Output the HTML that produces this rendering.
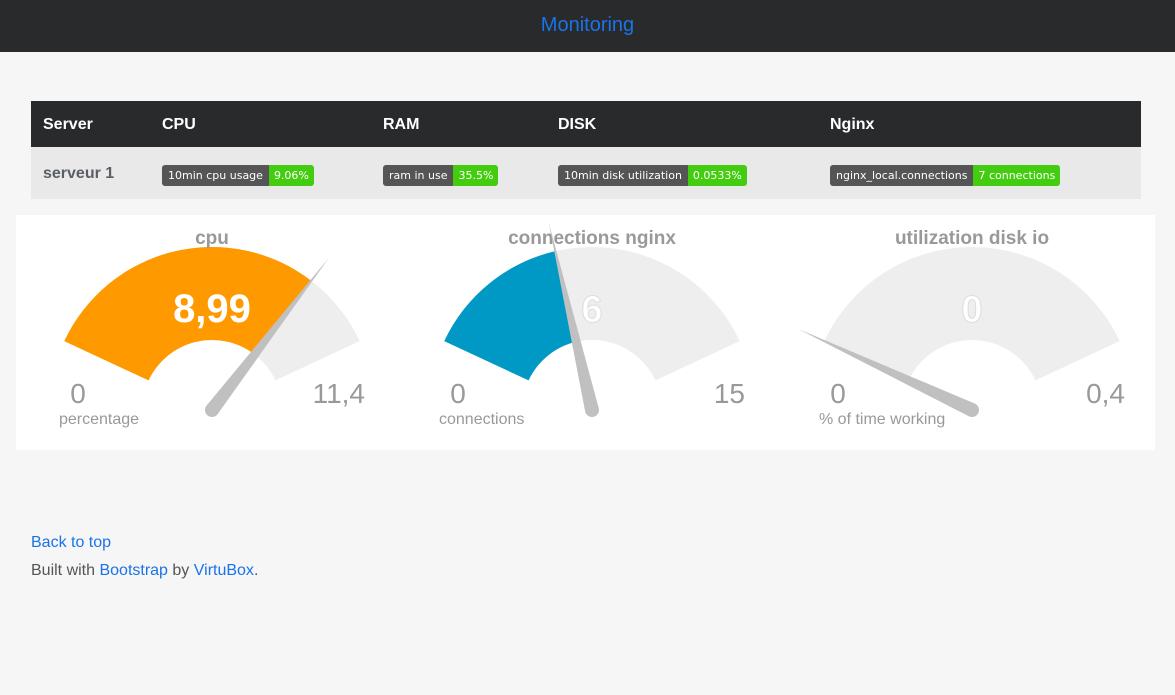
<!DOCTYPE html>
<html><head><meta charset="utf-8"><style>
body{margin:0;width:1175px;height:695px;background:#f6f6f6;font-family:"Liberation Sans",sans-serif;position:relative;overflow:hidden}
.hdr{position:absolute;left:0;top:0;width:1175px;height:52px;background:#292a2c;text-align:center;line-height:50px;font-size:20px;color:#1a73e8}
.tbl{position:absolute;left:31px;top:101px;width:1110px}
.th{height:46px;background:#292a2c;position:relative;color:#fff;font-weight:bold;font-size:16px}
.th span{position:absolute;top:15px}
.tr{height:52px;background:#e9e9e9;position:relative}
.tr .srv{position:absolute;left:12px;top:18px;font-weight:bold;font-size:16px;color:#5a5f66}
.badge{position:absolute;top:18px;height:21px;display:flex;font-size:11px;color:#fff;border-radius:3px;overflow:hidden;line-height:21px;font-family:"DejaVu Sans",sans-serif}
.badge .k{background:#555;padding:0 6px}
.badge .v{background:#4c1;padding:0 5px}
.panel{position:absolute;top:215px;height:235px;background:#fff}
.ft{position:absolute;left:31px;font-size:16px;color:#555}
a{color:#1a73e8;text-decoration:none}
</style></head><body>
<div class="hdr"><span>Monitoring</span></div>
<div class="tbl">
<div class="th">
<span style="left:12px">Server</span>
<span style="left:131px">CPU</span>
<span style="left:352px">RAM</span>
<span style="left:527px">DISK</span>
<span style="left:799px">Nginx</span>
</div>
<div class="tr">
<div class="srv">serveur 1</div>
<div class="badge" style="left:131px"><span class="k">10min cpu usage</span><span class="v">9.06%</span></div>
<div class="badge" style="left:352px"><span class="k">ram in use</span><span class="v">35.5%</span></div>
<div class="badge" style="left:527px"><span class="k">10min disk utilization</span><span class="v">0.0533%</span></div>
<div class="badge" style="left:799px"><span class="k">nginx_local.connections</span><span class="v">7 connections</span></div>
</div></div>
<div class="panel" style="left:16px;width:380px"></div>
<div class="panel" style="left:396px;width:378px"></div>
<div class="panel" style="left:774px;width:381px"></div>
<svg id="g" width="1175" height="695" style="position:absolute;left:0;top:0"></svg>
<div class="ft" style="top:534px"><a href="#">Back to top</a></div>
<div class="ft" style="top:562px">Built with <a href="#">Bootstrap</a> by <a href="#">VirtuBox</a>.</div>
<script>
const titles=["cpu","connections nginx","utilization disk io"];
const values=[8.99,6,0];
const maxes=[11.4,15,0.4];
const valueLabels=["8,99","6","0"];
const maxLabels=["11,4","15","0,4"];
const units=["percentage","connections","% of time working"];
const colors=["#ff9900","#0099c6","#ff9900"];
const centers=[212,592,972];
const svg=document.getElementById('g');
const NS="http://www.w3.org/2000/svg";
const cy=410,R=163,r=70,A0=155,A1=25;
function ang(v,m){return (A0-(A0-A1)*Math.max(0,Math.min(1,v/m)))*Math.PI/180;}
function pt(cx,a,rad){return [cx+rad*Math.cos(a),cy-rad*Math.sin(a)];}
function arc(cx,a0,a1){const p1=pt(cx,a0,R),p2=pt(cx,a1,R),p3=pt(cx,a1,r),p4=pt(cx,a0,r);
return `M${p1}A${R},${R} 0 0 1 ${p2}L${p3}A${r},${r} 0 0 0 ${p4}Z`;}
function add(tag,attrs,txt){const e=document.createElementNS(NS,tag);for(const k in attrs)e.setAttribute(k,attrs[k]);if(txt!==undefined)e.textContent=txt;svg.appendChild(e);return e;}
titles.forEach((t,i)=>{
const cx=centers[i];
const a0=A0*Math.PI/180,a1=A1*Math.PI/180,av=ang(values[i],maxes[i]);
let e=add('path',{d:arc(cx,a0,a1),fill:'#eeeeee'});


if(values[i]>0){e=add('path',{d:arc(cx,a0,av),fill:colors[i]});

}
e=add('text',{x:cx,y:244,'text-anchor':'middle','font-size':19,'font-weight':'bold',fill:'#999'},t);


e=add('text',{x:cx,y:322,'text-anchor':'middle','font-size':i==0?40:38,'font-weight':'bold',fill:'#fff',stroke:i==0?'none':'#ddd','stroke-width':1},valueLabels[i]);


e=add('text',{x:cx-134,y:403,'text-anchor':'middle','font-size':28,fill:'#999'},'0');


e=add('text',{x:cx+153,y:403,'text-anchor':'end','font-size':28,fill:'#999'},maxLabels[i]);


e=add('text',{x:cx-153,y:424,'font-size':16,fill:'#999'},units[i]);


const tip=pt(cx,av,192),pa=av+Math.PI/2,w=7;
const b1=[cx+w*Math.cos(pa),cy-w*Math.sin(pa)],b2=[cx-w*Math.cos(pa),cy+w*Math.sin(pa)];
e=add('path',{d:`M${b1}L${tip}L${b2}Z`,fill:'#c0c0c0'});


e=add('circle',{cx:cx,cy:cy,r:w,fill:'#c0c0c0'});


});
</script>
</body></html>
